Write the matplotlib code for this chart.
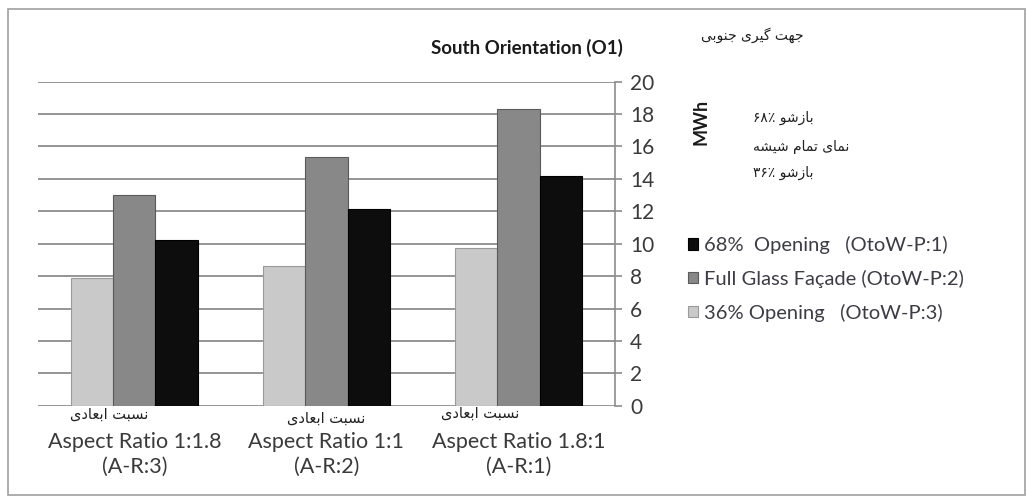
import matplotlib
matplotlib.use('Agg')
import numpy as np
import matplotlib.pyplot as plt
from matplotlib.patches import Rectangle

# data
categories = ['Aspect Ratio 1:1.8\n(A-R:3)', 'Aspect Ratio 1:1\n(A-R:2)', 'Aspect Ratio 1.8:1\n(A-R:1)']
cat_fa = 'نسبت ابعادی'
series_names = ['36% Opening   (OtoW-P:3)', 'Full Glass Façade (OtoW-P:2)', '68%  Opening   (OtoW-P:1)']
opening_36 = [7.9, 8.6, 9.75]
full_glass = [13.0, 15.35, 18.3]
opening_68 = [10.25, 12.15, 14.2]
yticks = [0, 2, 4, 6, 8, 10, 12, 14, 16, 18, 20]

title = 'South Orientation (O1)'
title_fa = 'جهت گیری جنوبی'
legend_fa = ['بازشو ۶۸٪', 'نمای تمام شیشه', 'بازشو ۳۶٪']

# small persian shaper (matplotlib has no bidi / shaping)
FORMS = {
    'ا': ('\uFE8D', '\uFE8E', None, None),
    'ب': ('\uFE8F', '\uFE90', '\uFE91', '\uFE92'),
    'ت': ('\uFE95', '\uFE96', '\uFE97', '\uFE98'),
    'ج': ('\uFE9D', '\uFE9E', '\uFE9F', '\uFEA0'),
    'د': ('\uFEA9', '\uFEAA', None, None),
    'ر': ('\uFEAD', '\uFEAE', None, None),
    'ز': ('\uFEAF', '\uFEB0', None, None),
    'س': ('\uFEB1', '\uFEB2', '\uFEB3', '\uFEB4'),
    'ش': ('\uFEB5', '\uFEB6', '\uFEB7', '\uFEB8'),
    'ع': ('\uFEC9', '\uFECA', '\uFECB', '\uFECC'),
    'م': ('\uFEE1', '\uFEE2', '\uFEE3', '\uFEE4'),
    'ن': ('\uFEE5', '\uFEE6', '\uFEE7', '\uFEE8'),
    'ه': ('\uFEE9', '\uFEEA', '\uFEEB', '\uFEEC'),
    'و': ('\uFEED', '\uFEEE', None, None),
    'ی': ('\uFEEF', '\uFEF0', '\uFEF3', '\uFEF4'),
    'گ': ('\uFB92', '\uFB93', '\uFB94', '\uFB95'),
}


def shape_word(w):
    if not any(c in FORMS for c in w):
        return w
    out = []
    for i, c in enumerate(w):
        if c not in FORMS:
            out.append(c)
            continue
        f = FORMS[c]
        prev = i > 0 and w[i - 1] in FORMS and FORMS[w[i - 1]][2] is not None
        nxt = i < len(w) - 1 and w[i + 1] in FORMS and f[2] is not None
        if prev and nxt:
            out.append(f[3])
        elif prev:
            out.append(f[1])
        elif nxt:
            out.append(f[2])
        else:
            out.append(f[0])
    return ''.join(reversed(out))


def fa(text):
    return ' '.join(shape_word(w) for w in reversed(text.split(' ')))


plt.rcParams['font.family'] = ['Lato', 'DejaVu Sans']
text_col = '#3c3c46'

fig = plt.figure(figsize=(10.33, 5.01), dpi=100)
ax = fig.add_axes([0.037, 0.19, 0.558, 0.647])

x = np.arange(len(categories))
w = 0.22
ax.bar(x - w, opening_36, w, color='#c9c9c9', edgecolor='#9a9a9a', linewidth=0.8, zorder=3, label=series_names[0])
ax.bar(x, full_glass, w, color='#888888', edgecolor='#5a5a5a', linewidth=0.8, zorder=3, label=series_names[1])
ax.bar(x + w, opening_68, w, color='#0d0d0d', edgecolor='#000000', linewidth=0.8, zorder=3, label=series_names[2])

ax.set_xlim(-0.5, 2.5)
ax.set_ylim(0, 20)
ax.set_yticks(yticks)
ax.yaxis.tick_right()
ax.yaxis.grid(True, color='#8c8c8c', linewidth=1.3, zorder=0)
ax.tick_params(axis='y', colors='#8c8c8c', length=5, width=1.2, labelsize=15, labelcolor='#3a3a3a', pad=6)
for s in ['left', 'top', 'bottom']:
    ax.spines[s].set_visible(False)
ax.spines['right'].set_color('#8c8c8c')
ax.spines['right'].set_linewidth(1.2)

ax.set_xticks(x)
ax.set_xticklabels(categories, fontsize=15.5, color='#3a3a3a', linespacing=1.3)
ax.tick_params(axis='x', length=0, pad=19)

fa_offsets = [-0.13, 0.0, -0.2]
fa_heights = [-0.5, -0.75, -0.45]
for i in range(len(categories)):
    ax.text(x[i] + fa_offsets[i], fa_heights[i], fa(cat_fa), ha='center', va='center',
            fontsize=10.5, color='#202020', family='DejaVu Sans')

fig.text(0.51, 0.904, title, ha='center', va='center', fontsize=13.5, fontweight='bold', color='#1a1a1a')
fig.text(0.728, 0.93, fa(title_fa), ha='center', va='center', fontsize=10, color='#202020', family='DejaVu Sans')
fig.text(0.679, 0.757, 'MWh', ha='center', va='center', rotation=90, fontsize=13, fontweight='bold', color='#1a1a1a')
fa_y = [0.765, 0.707, 0.655]
for t, yy in zip(legend_fa, fa_y):
    fig.text(0.729, yy, fa(t), ha='left', va='center', fontsize=10, color='#202020', family='DejaVu Sans')

h, l = ax.get_legend_handles_labels()
leg = fig.legend(h[::-1], l[::-1], loc='upper left', bbox_to_anchor=(0.648, 0.565), frameon=False,
                 fontsize=14.5, handlelength=0.5, handleheight=0.5, handletextpad=0.3, labelspacing=0.78)
for t in leg.get_texts():
    t.set_color(text_col)

fig.patches.append(Rectangle((0.008, 0.012), 0.984, 0.97, transform=fig.transFigure,
                             fill=False, edgecolor='#a0a0a0', linewidth=1.2))

fig.savefig('out.png', dpi=100)
